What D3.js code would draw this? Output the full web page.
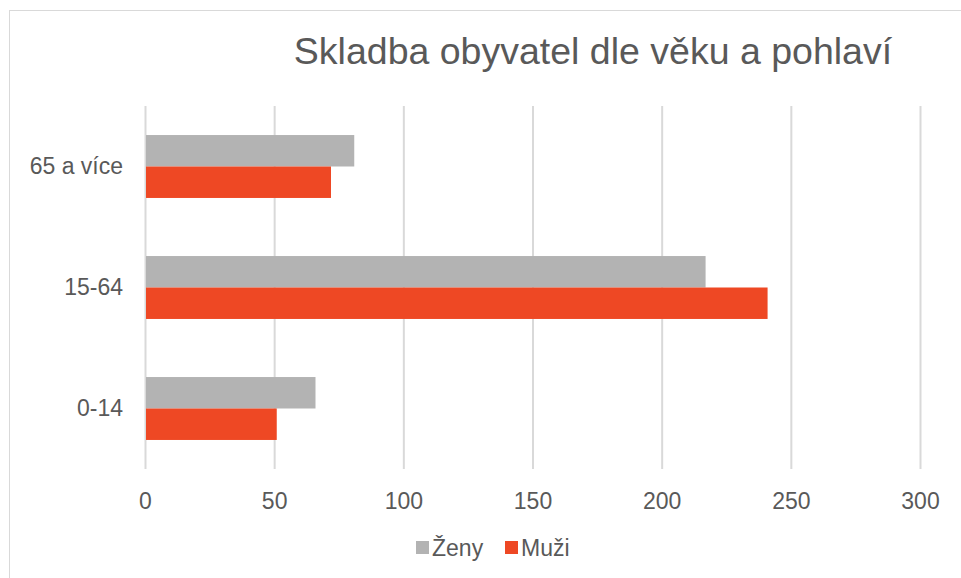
<!DOCTYPE html>
<html>
<head>
<meta charset="utf-8">
<script src="https://cdn.jsdelivr.net/npm/d3@7"></script>
<style>
  body { margin: 0; background: #fff; }
  svg { display: block; font-family: "Liberation Sans", Arial, sans-serif; }
</style>
</head>
<body>
<div id="chart"></div>
<script>
// data
const categories = ["65 a více", "15-64", "0-14"];
const series = ["Ženy", "Muži"];
const zeny = [81, 217, 66];
const muzi = [72, 241, 51];
const xTicks = [0, 50, 100, 150, 200, 250, 300];
const colors = ["#b3b3b3", "#ee4824"];

const W = 961, H = 578;
const plot = { left: 145, right: 920, top: 106, bottom: 469 };

const svg = d3.select("#chart").append("svg")
  .attr("width", W)
  .attr("height", H);

// chart frame
svg.append("rect")
  .attr("x", 9.5).attr("y", 10.5)
  .attr("width", W + 20).attr("height", H + 20)
  .attr("fill", "none")
  .attr("stroke", "#d9d9d9");

svg.append("text")
  .attr("x", 593)
  .attr("y", 64)
  .attr("text-anchor", "middle")
  .attr("fill", "#595959")
  .attr("font-size", 37.5)
  .text("Skladba obyvatel dle věku a pohlaví");

const x = d3.scaleLinear().domain([0, 300]).range([plot.left, plot.right]);
const y = d3.scaleBand().domain(categories).range([plot.top, plot.bottom]);
const barGroup = y.bandwidth() * 0.52;
const ySub = d3.scaleBand().domain(series)
  .range([(y.bandwidth() - barGroup) / 2, (y.bandwidth() + barGroup) / 2]);

// gridlines + tick labels
const xAxis = d3.axisBottom(x).tickValues(xTicks).tickSize(-(plot.bottom - plot.top)).tickPadding(24);
const gx = svg.append("g")
  .attr("transform", `translate(0,${plot.bottom})`)
  .call(xAxis);
gx.select(".domain").remove();
gx.selectAll(".tick line").attr("stroke", "#d9d9d9").attr("stroke-width", 2);
gx.selectAll(".tick text")
  .attr("fill", "#595959")
  .attr("font-size", 23)
  .attr("font-family", "Liberation Sans, Arial, sans-serif");

// category labels
const yAxis = d3.axisLeft(y).tickSize(0).tickPadding(22);
const gy = svg.append("g")
  .attr("transform", `translate(${plot.left},0)`)
  .call(yAxis);
gy.select(".domain").remove();
gy.selectAll(".tick text")
  .attr("fill", "#595959")
  .attr("font-size", 23)
  .attr("font-family", "Liberation Sans, Arial, sans-serif");

// bars
const rows = categories.map((c, i) => ({ cat: c, values: [zeny[i], muzi[i]] }));
const groups = svg.append("g").selectAll("g")
  .data(rows)
  .join("g")
  .attr("transform", d => `translate(0,${y(d.cat)})`);

groups.selectAll("rect")
  .data(d => d.values.map((v, j) => ({ key: series[j], v, j })))
  .join("rect")
  .attr("x", x(0) + 1)
  .attr("y", d => ySub(d.key))
  .attr("width", d => x(d.v) - x(0) - 1)
  .attr("height", ySub.bandwidth())
  .attr("fill", d => colors[d.j]);

// legend
const legend = svg.append("g").attr("transform", "translate(416,548)");
const legX = [0, 89];
series.forEach((s, i) => {
  const g = legend.append("g").attr("transform", `translate(${legX[i]},0)`);
  g.append("rect")
    .attr("x", 0).attr("y", -7)
    .attr("width", 13).attr("height", 13)
    .attr("fill", colors[i]);
  g.append("text")
    .attr("x", 16)
    .attr("y", 8)
    .attr("fill", "#595959")
    .attr("font-size", 23)
    .text(s);
});
</script>
</body>
</html>
